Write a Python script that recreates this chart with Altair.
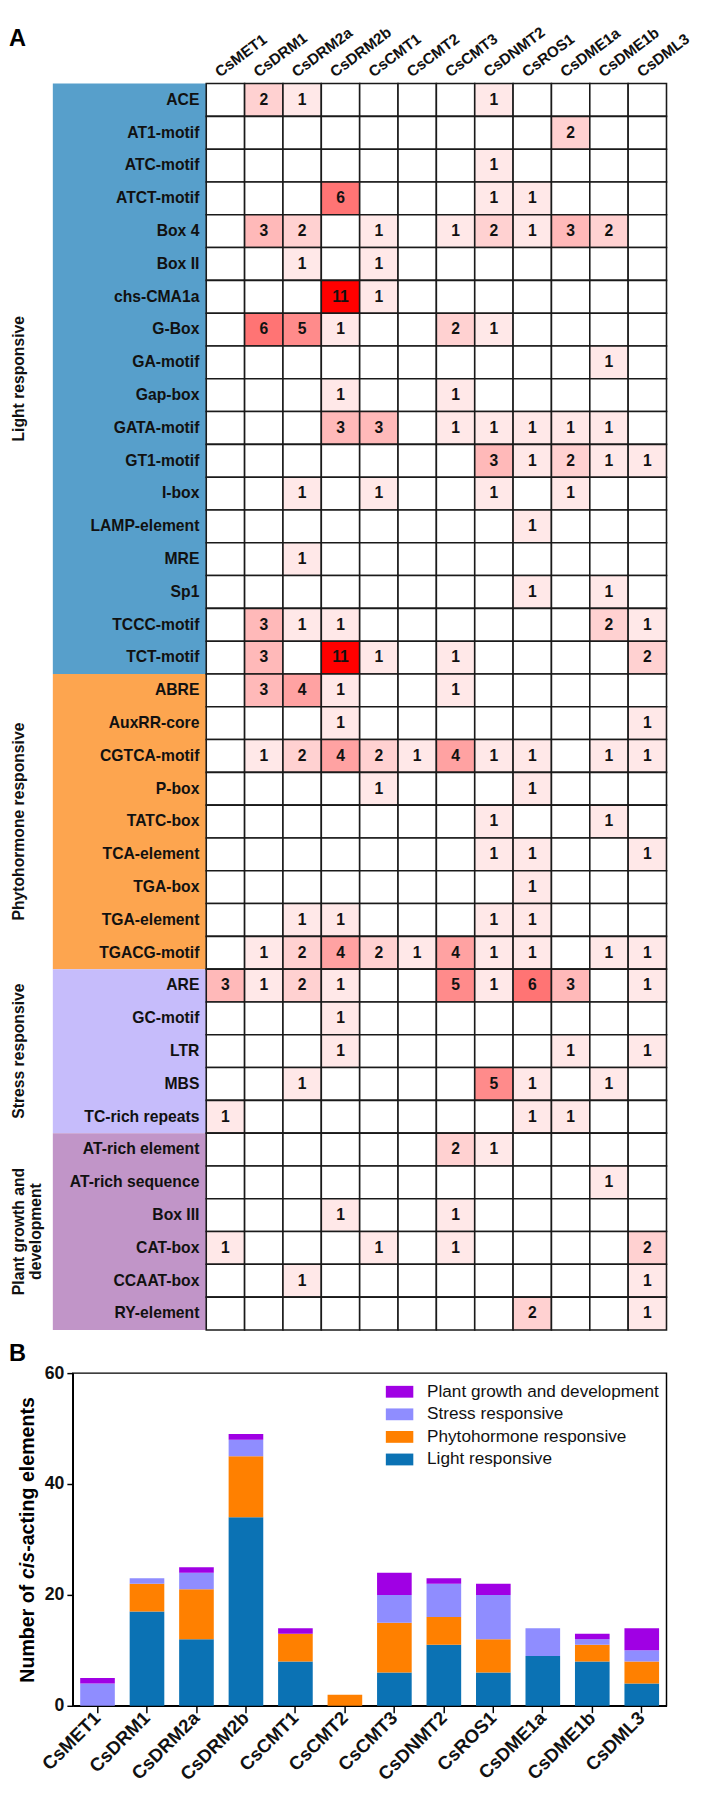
import altair as alt
import pandas as pd

FONT = "Liberation Sans"

genes = ["CsMET1", "CsDRM1", "CsDRM2a", "CsDRM2b", "CsCMT1", "CsCMT2",
         "CsCMT3", "CsDNMT2", "CsROS1", "CsDME1a", "CsDME1b", "CsDML3"]

elements = ["ACE", "AT1-motif", "ATC-motif", "ATCT-motif", "Box 4", "Box II",
            "chs-CMA1a", "G-Box", "GA-motif", "Gap-box", "GATA-motif", "GT1-motif",
            "I-box", "LAMP-element", "MRE", "Sp1", "TCCC-motif", "TCT-motif",
            "ABRE", "AuxRR-core", "CGTCA-motif", "P-box", "TATC-box", "TCA-element",
            "TGA-box", "TGA-element", "TGACG-motif",
            "ARE", "GC-motif", "LTR", "MBS", "TC-rich repeats",
            "AT-rich element", "AT-rich sequence", "Box III", "CAT-box", "CCAAT-box", "RY-element"]

# counts per gene, in the order of `elements`
cs_met1 = [0,0,0,0,0,0,0,0,0,0, 0,0,0,0,0,0,0,0, 0,0,0,0,0,0,0,0,0, 3,0,0,0,1, 0,0,0,1,0,0]
cs_drm1 = [2,0,0,0,3,0,0,6,0,0, 0,0,0,0,0,0,3,3, 3,0,1,0,0,0,0,0,1, 1,0,0,0,0, 0,0,0,0,0,0]
cs_drm2a = [1,0,0,0,2,1,0,5,0,0, 0,0,1,0,1,0,1,0, 4,0,2,0,0,0,0,1,2, 2,0,0,1,0, 0,0,0,0,1,0]
cs_drm2b = [0,0,0,6,0,0,11,1,0,1, 3,0,0,0,0,0,1,11, 1,1,4,0,0,0,0,1,4, 1,1,1,0,0, 0,0,1,0,0,0]
cs_cmt1 = [0,0,0,0,1,1,1,0,0,0, 3,0,1,0,0,0,0,1, 0,0,2,1,0,0,0,0,2, 0,0,0,0,0, 0,0,0,1,0,0]
cs_cmt2 = [0,0,0,0,0,0,0,0,0,0, 0,0,0,0,0,0,0,0, 0,0,1,0,0,0,0,0,1, 0,0,0,0,0, 0,0,0,0,0,0]
cs_cmt3 = [0,0,0,0,1,0,0,2,0,1, 1,0,0,0,0,0,0,1, 1,0,4,0,0,0,0,0,4, 5,0,0,0,0, 2,0,1,1,0,0]
cs_dnmt2 = [1,0,1,1,2,0,0,1,0,0, 1,3,1,0,0,0,0,0, 0,0,1,0,1,1,0,1,1, 1,0,0,5,0, 1,0,0,0,0,0]
cs_ros1 = [0,0,0,1,1,0,0,0,0,0, 1,1,0,1,0,1,0,0, 0,0,1,1,0,1,1,1,1, 6,0,0,1,1, 0,0,0,0,0,2]
cs_dme1a = [0,2,0,0,3,0,0,0,0,0, 1,2,1,0,0,0,0,0, 0,0,0,0,0,0,0,0,0, 3,0,1,0,1, 0,0,0,0,0,0]
cs_dme1b = [0,0,0,0,2,0,0,0,1,0, 1,1,0,0,0,1,2,0, 0,0,1,0,1,0,0,0,1, 0,0,0,1,0, 0,1,0,0,0,0]
cs_dml3 = [0,0,0,0,0,0,0,0,0,0, 0,1,0,0,0,0,1,2, 0,1,1,0,0,1,0,0,1, 1,0,1,0,0, 0,0,0,2,1,1]
gene_counts = [cs_met1, cs_drm1, cs_drm2a, cs_drm2b, cs_cmt1, cs_cmt2,
               cs_cmt3, cs_dnmt2, cs_ros1, cs_dme1a, cs_dme1b, cs_dml3]

group_names = ["Light responsive", "Phytohormone responsive",
               "Stress responsive", "Plant growth and development"]
group_sizes = [18, 9, 5, 6]
group_lines = [["Light responsive"], ["Phytohormone responsive"],
               ["Stress responsive"], ["Plant growth and", "development"]]
band_colors = ["#579fcb", "#fda54f", "#c6bcfb", "#c195c8"]

# bar chart (panel B)
bar_light = [0, 17, 12, 34, 8, 0, 6, 11, 6, 9, 8, 4]
bar_phyto = [0, 5, 9, 11, 5, 2, 9, 5, 6, 0, 3, 4]
bar_stress = [4, 1, 3, 3, 0, 0, 5, 6, 8, 5, 1, 2]
bar_plant = [1, 0, 1, 1, 1, 0, 4, 1, 2, 0, 1, 4]
legend_order = ["Plant growth and development", "Stress responsive",
                "Phytohormone responsive", "Light responsive"]
bar_colors = ["#a000e4", "#8f8dff", "#ff8000", "#0b72b4"]
y_ticks = [0, 20, 40, 60]

# ---------------- tables ----------------
cells = pd.DataFrame([{"ci": ci, "ri": ri, "v": gene_counts[ci][ri]}
                      for ci in range(len(genes)) for ri in range(len(elements))])
rows = pd.DataFrame({"element": elements, "ri": list(range(len(elements)))})
cols = pd.DataFrame({"gene": genes, "ci": list(range(len(genes)))})
starts, s = [], 0
for n in group_sizes:
    starts.append(s)
    s += n
bands = pd.DataFrame({"group": group_names, "start": starts,
                      "end": [a + b for a, b in zip(starts, group_sizes)],
                      "fillc": band_colors})
glab = pd.DataFrame([{"text": t, "li": li, "mid": starts[gi] + group_sizes[gi] / 2}
                     for gi, lines in enumerate(group_lines) for li, t in enumerate(lines)])

XS = alt.Scale(domain=[-3.48, 12], nice=False, zero=False)
YS = alt.Scale(domain=[0, 38], reverse=True, nice=False, zero=False)

band = alt.Chart(bands).transform_calculate(bx0="-4", bx1="0").mark_rect().encode(
    x=alt.X("bx0:Q", scale=XS, axis=None), x2="bx1:Q",
    y=alt.Y("start:Q", scale=YS, axis=None), y2="end:Q",
    fill=alt.Fill("fillc:N", scale=None))

cell = alt.Chart(cells).transform_calculate(
    x0="datum.ci", x1="datum.ci + 1", y0="datum.ri", y1="datum.ri + 1"
).mark_rect(stroke="#1a1a1a", strokeWidth=1.6).encode(
    x=alt.X("x0:Q", scale=XS, axis=None), x2="x1:Q",
    y=alt.Y("y0:Q", scale=YS, axis=None), y2="y1:Q",
    fill=alt.Fill("v:Q", scale=alt.Scale(domain=[0, 11], range=["#ffffff", "#ff0000"],
                                         interpolate="rgb"), legend=None))

celltext = alt.Chart(cells).transform_filter("datum.v > 0").transform_calculate(
    xc="datum.ci + 0.5", yc="datum.ri + 0.5"
).mark_text(font=FONT, fontSize=16, fontWeight="bold", color="#111111").encode(
    x=alt.X("xc:Q", scale=XS, axis=None), y=alt.Y("yc:Q", scale=YS, axis=None),
    text="v:Q")

rowlab = alt.Chart(rows).transform_calculate(lx="0", ly="datum.ri + 0.5").mark_text(
    font=FONT, fontSize=16, fontWeight="bold", align="right", baseline="middle",
    dx=-7, color="#111111").encode(
    x=alt.X("lx:Q", scale=XS, axis=None), y=alt.Y("ly:Q", scale=YS, axis=None),
    text="element:N")

colhead = alt.Chart(cols).transform_calculate(hx="datum.ci + 0.36", hy="-0.18").mark_text(
    font=FONT, fontSize=15.5, fontWeight="bold", align="left", baseline="alphabetic",
    angle=323, color="#111111").encode(
    x=alt.X("hx:Q", scale=XS, axis=None), y=alt.Y("hy:Q", scale=YS, axis=None),
    text="gene:N")

grouplab = alt.Chart(glab).transform_calculate(gx="-4.89 + 0.46 * datum.li").mark_text(
    font=FONT, fontSize=16, fontWeight="bold", angle=270, align="center",
    baseline="middle", color="#111111").encode(
    x=alt.X("gx:Q", scale=XS, axis=None), y=alt.Y("mid:Q", scale=YS, axis=None),
    text="text:N")

one = pd.DataFrame({"k": [0]})
alab = alt.Chart(one).mark_text(font=FONT, fontSize=24, fontWeight="bold", align="left",
                                baseline="alphabetic").encode(
    x=alt.value(-65), y=alt.value(-38), text=alt.value("A"))

heat = alt.layer(band, cell, celltext, rowlab, colhead, grouplab, alab).properties(
    width=605, height=1270, view=alt.ViewBackground(stroke=None))

# ---------------- bar chart ----------------
series = [("Light responsive", bar_light, 0), ("Phytohormone responsive", bar_phyto, 1),
          ("Stress responsive", bar_stress, 2), ("Plant growth and development", bar_plant, 3)]
bd = pd.DataFrame([{"gene": g, "group": name, "value": vals[i], "ord": o}
                   for name, vals, o in series for i, g in enumerate(genes)])

bars = alt.Chart(bd).mark_bar().encode(
    x=alt.X("gene:N", sort=genes, scale=alt.Scale(paddingInner=0.3, paddingOuter=0.15),
            axis=alt.Axis(title=None, labelAngle=-45, labelAlign="right", labelBaseline="middle",
                          labelFont=FONT, labelFontSize=19, labelFontWeight="bold",
                          labelColor="#111111", labelPadding=2, tickSize=7, tickWidth=1.5,
                          tickColor="black", domainColor="black", domainWidth=1.5)),
    y=alt.Y("value:Q", stack="zero", scale=alt.Scale(domain=[0, 60], nice=False),
            axis=alt.Axis(title=None, values=y_ticks, grid=False, labelFont=FONT,
                          labelFontSize=18, labelFontWeight="bold", labelColor="#111111",
                          labelPadding=3, tickSize=6, tickWidth=1.5, tickColor="black",
                          domainColor="black", domainWidth=1.5)),
    color=alt.Color("group:N", scale=alt.Scale(domain=legend_order, range=bar_colors),
                    legend=alt.Legend(title=None, orient="none", legendX=319, legendY=5,
                                      symbolType="M-1,-0.43L1,-0.43L1,0.43L-1,0.43Z",
                                      symbolSize=784, symbolStrokeWidth=0, symbolOpacity=1,
                                      labelFont=FONT, labelFontSize=17.5, labelColor="#111111",
                                      labelOffset=14, rowPadding=0, padding=0, labelLimit=400)),
    order=alt.Order("ord:Q", sort="ascending"))

TITLE_X = -40
t1 = alt.Chart(one).mark_text(font=FONT, fontSize=20, fontWeight="bold", angle=270,
                              align="left", baseline="alphabetic").encode(
    x=alt.value(TITLE_X), y=alt.value(315.5), text=alt.value("Number of "))
t2 = alt.Chart(one).mark_text(font=FONT, fontSize=20, fontWeight="bold", fontStyle="italic",
                              angle=270, align="left", baseline="alphabetic").encode(
    x=alt.value(TITLE_X), y=alt.value(209.9), text=alt.value("cis"))
t3 = alt.Chart(one).mark_text(font=FONT, fontSize=20, fontWeight="bold", angle=270,
                              align="left", baseline="alphabetic").encode(
    x=alt.value(TITLE_X), y=alt.value(182.1), text=alt.value("-acting elements"))
blab = alt.Chart(one).mark_text(font=FONT, fontSize=24, fontWeight="bold", align="left",
                                baseline="alphabetic").encode(
    x=alt.value(-65), y=alt.value(-12), text=alt.value("B"))

barchart = alt.layer(bars, t1, t2, t3, blab).properties(
    width=605, height=339, view=alt.ViewBackground(stroke="black", strokeWidth=1.5))

chart = alt.vconcat(heat, barchart, spacing=11).resolve_scale(
    color="independent", fill="independent").properties(padding=0).configure(font=FONT)

chart.save("out.html", embed_options={"renderer": "svg", "actions": False})
